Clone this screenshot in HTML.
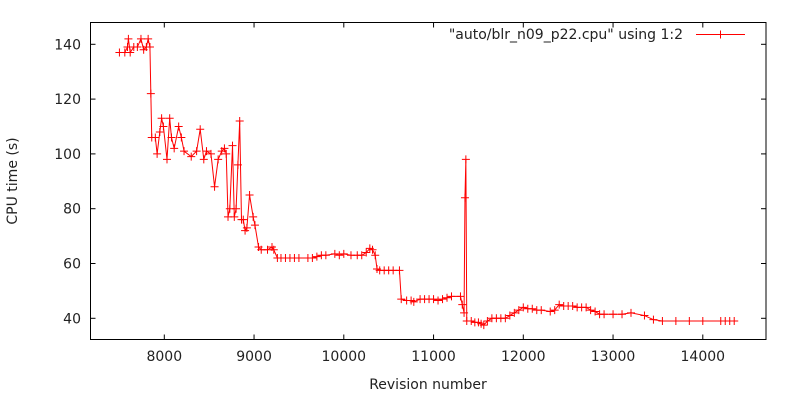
<!DOCTYPE html>
<html><head><meta charset="utf-8"><style>
body{margin:0;background:#fff}
svg{display:block;font-family:"DejaVu Sans","Liberation Sans",sans-serif}
</style></head><body>
<svg id="chart" width="800" height="400"></svg>
<script>
const revisions=[7500,7560,7590,7600,7620,7660,7700,7740,7770,7800,7820,7840,7850,7860,7900,7920,7950,7970,7990,8030,8060,8080,8110,8160,8190,8220,8300,8360,8400,8440,8470,8520,8560,8600,8640,8670,8690,8710,8730,8760,8780,8800,8820,8840,8860,8880,8900,8920,8950,8990,9010,9050,9080,9150,9200,9220,9260,9300,9350,9400,9450,9500,9600,9650,9700,9750,9800,9900,9950,10000,10080,10150,10200,10250,10290,10320,10350,10370,10400,10450,10500,10550,10620,10640,10700,10750,10780,10850,10900,10950,11000,11050,11100,11150,11200,11300,11320,11340,11350,11360,11370,11420,11460,11500,11530,11560,11600,11650,11700,11750,11800,11850,11900,11950,12000,12050,12100,12150,12200,12300,12350,12400,12450,12500,12550,12600,12650,12700,12750,12800,12850,12900,13000,13100,13200,13350,13450,13550,13700,13850,14000,14200,14250,14300,14350,14380];
const cpuTimes=[137,137,139,142,137,139,139,142,138,139,142,139,122,106,106,100,108,113,110,98,113,106,102,110,106,101,99,101,109,98,101,100,88,98,101,102,100,77,80,103,77,80,96,112,76,76,72,73,85,77,74,66,65,65,66,65,62,62,62,62,62,62,62,62,62.5,63,63,63.5,63,63.5,63,63,63,64,65.5,65,63,58,57.5,57.5,57.5,57.5,57.5,47,46.5,46.5,46,47,47,47,47,46.5,47,47.5,48,48,45,42,84,98,39,39,38.5,38.5,38,37.5,39,40,40,40,40,41,42,43,44,43.5,43.5,43,43,42.5,43,45,44.5,44.5,44.5,44,44,44,43,42.5,41.5,41.5,41.5,41.5,42,41,39.5,39,39,39,39,39,39,39,39];
const xTicks=[8000,9000,10000,11000,12000,13000,14000];
const yTicks=[40,60,80,100,120,140];
const L=90.5,R=766,T=22.5,B=339.5;
const X=v=>164.3+(v-8000)*0.08975;
const Y=v=>318.3-(v-40)*2.74;
const NS="http://www.w3.org/2000/svg",svg=document.getElementById('chart');
function mk(tag,a,p){const e=document.createElementNS(NS,tag);for(const k in a)e.setAttribute(k,a[k]);(p||svg).appendChild(e);return e;}
const axes=mk('g',{});


xTicks.forEach(t=>{const x=X(t);
 const g=mk('g',{},axes);
 
 
 mk('line',{x1:x,x2:x,y1:B,y2:B-5,stroke:'#000'},g);
 mk('line',{x1:x,x2:x,y1:T,y2:T+5,stroke:'#000'},g);
 const tx=mk('text',{x:x,y:361,'text-anchor':'middle','font-size':14,fill:'#222'},g);tx.textContent=t;});
yTicks.forEach(t=>{const y=Y(t);
 const g=mk('g',{},axes);
 
 
 mk('line',{x1:L,x2:L+5,y1:y,y2:y,stroke:'#000'},g);
 mk('line',{x1:R,x2:R-5,y1:y,y2:y,stroke:'#000'},g);
 const tx=mk('text',{x:81,y:y+5,'text-anchor':'end','font-size':14,fill:'#222'},g);tx.textContent=t;});
const frame=mk('rect',{x:L,y:T,width:R-L,height:B-T,fill:'none',stroke:'#000'});


const yt=mk('text',{x:17,y:181,'text-anchor':'middle','font-size':14,fill:'#222',transform:'rotate(-90 17 181)'});


yt.textContent='CPU time (s)';
const xt=mk('text',{x:428,y:389,'text-anchor':'middle','font-size':14,fill:'#222'});


xt.textContent='Revision number';
const line=mk('polyline',{points:revisions.map((r,i)=>X(r)+','+Y(cpuTimes[i])).join(' '),fill:'none',stroke:'#f00','stroke-width':1});


const pts=mk('g',{stroke:'#f00','stroke-width':1});


revisions.forEach((r,i)=>{const x=X(r),y=Y(cpuTimes[i]);
 const p=mk('path',{d:`M${x-4},${y}H${x+4}M${x},${y-4}V${y+4}`},pts);
 
 });
const lg=mk('g',{});


const lt=mk('text',{x:683,y:39,'text-anchor':'end','font-size':14,fill:'#222'},lg);lt.textContent='"auto/blr_n09_p22.cpu" using 1:2';
mk('line',{x1:696,x2:745,y1:34.5,y2:34.5,stroke:'#f00'},lg);
mk('line',{x1:720.5,x2:720.5,y1:30.5,y2:38.5,stroke:'#f00'},lg);
</script>
</body></html>
